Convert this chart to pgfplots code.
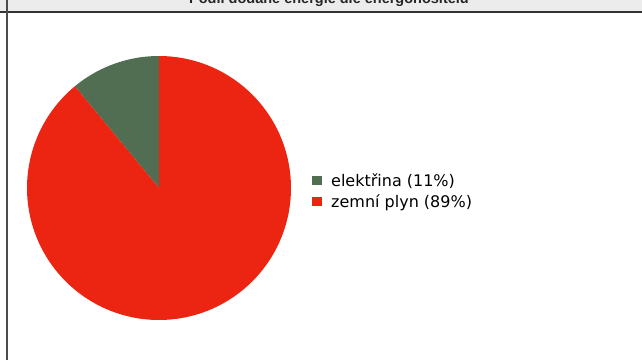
\documentclass[border=0pt]{standalone}
\usepackage{fontspec}
\setmainfont{DejaVu Sans}
\newfontfamily\titlefont{Liberation Sans}
\usepackage{pgfplots}
\usepackage{pgfplotstable}
\pgfplotsset{compat=1.18}
\definecolor{slicegreen}{RGB}{82,110,82}
\definecolor{slicered}{RGB}{236,36,18}
\definecolor{bandgray}{RGB}{236,236,236}
\pgfplotstableread{
label value
elektrina 11
plyn 89
}\piedata
\pgfplotstablegetelem{0}{value}\of\piedata
\pgfmathsetmacro{\aA}{90}
\pgfmathsetmacro{\aB}{90+3.6*\pgfplotsretval}
\pgfplotstablegetelem{1}{value}\of\piedata
\pgfmathsetmacro{\aC}{\aB+3.6*\pgfplotsretval}
\begin{document}
\begin{tikzpicture}[x=1pt,y=1pt]
\clip (0,0) rectangle (642,360);
\fill[white] (0,0) rectangle (642,360);
\fill[bandgray] (0,348) rectangle (642,360);
\node[anchor=base, font=\titlefont\bfseries\fontsize{14.5}{17}\selectfont, text=black!85, inner sep=0] at (329,356.5) {Podíl dodané energie dle energonositelů};
\draw[black!80, line width=2pt] (0,348.2) -- (642,348.2);
\draw[black!70, line width=2pt] (6.5,0) -- (6.5,360);
\begin{axis}[
  at={(159pt,172pt)}, anchor=center,
  scale only axis, width=264pt, height=264pt,
  xmin=-1, xmax=1, ymin=-1, ymax=1,
  hide axis, clip=false,
  area legend,
  legend image code/.code={\fill[#1] (0pt,-4.5pt) rectangle (9.5pt,4.5pt);},
  legend style={at={(1.0795,0.49)}, anchor=west, draw=none, fill=none, inner sep=0pt,
    font=\fontsize{16}{19}\selectfont, row sep=8pt,
    nodes={inner sep=0pt, text depth=0pt}},
  legend cell align=left,
]
\addplot[fill=slicegreen, draw=none, domain=\aA:\aB, samples=40, variable=\t]
  ({cos(\t)}, {sin(\t)}) -- (axis cs:0,0) -- cycle;
\addlegendentry{\hspace{9.5pt}elektřina (11\%)}
\addplot[fill=slicered, draw=none, domain=\aB:\aC, samples=240, variable=\t]
  ({cos(\t)}, {sin(\t)}) -- (axis cs:0,0) -- cycle;
\addlegendentry{\hspace{9.5pt}zemní plyn (89\%)}
\end{axis}
\end{tikzpicture}
\end{document}
